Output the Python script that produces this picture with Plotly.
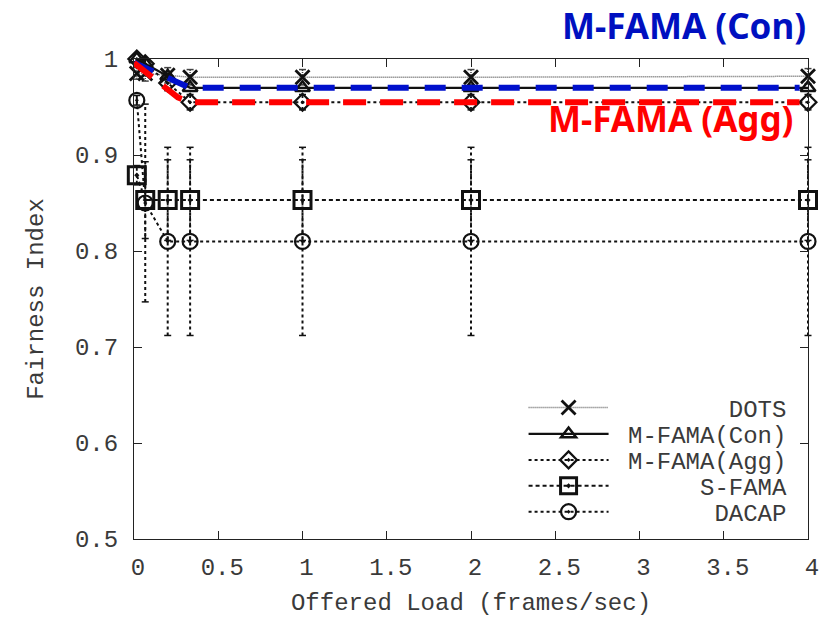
import plotly.graph_objects as go

# ---- data ----
loads = [0.0167, 0.0667, 0.2, 0.333, 1, 2, 4]

dots = [0.985, 0.985, 0.983, 0.981, 0.981, 0.981, 0.982]
dots_err = [0.006, 0.008, 0.008, 0.008, 0.008, 0.008, 0.008]

mfama_con = [1.0, 0.995, 0.982, 0.970, 0.970, 0.970, 0.970]
mfama_con_err = [0.002, 0.003, 0.003, 0.003, 0.003, 0.003, 0.003]

mfama_agg = [1.0, 0.995, 0.975, 0.955, 0.955, 0.955, 0.955]
mfama_agg_err = [0.003, 0.005, 0.008, 0.008, 0.008, 0.008, 0.008]

sfama = [0.879, 0.853, 0.853, 0.853, 0.853, 0.853, 0.853]
sfama_err = [0.01, 0.04, 0.042, 0.042, 0.042, 0.042, 0.042]

dacap = [0.957, 0.850, 0.810, 0.810, 0.810, 0.810, 0.810]
dacap_err = [0.005, 0.103, 0.098, 0.098, 0.098, 0.098, 0.098]

# highlight overlays (thick coloured dashed lines)
hl_x = [0.0, 0.26, 0.333, 3.95]
hl_con = [0.996, 0.977, 0.970, 0.970]
hl_agg = [0.996, 0.960, 0.955, 0.955]

series_names = ["DOTS", "M-FAMA(Con)", "M-FAMA(Agg)", "S-FAMA", "DACAP"]
x_ticks = [0, 0.5, 1, 1.5, 2, 2.5, 3, 3.5, 4]
y_ticks = [0.5, 0.6, 0.7, 0.8, 0.9, 1.0]
y_tick_text = ["0.5", "0.6", "0.7", "0.8", "0.9", "1"]

MONO = "Liberation Mono, Courier New, monospace"
TXT = "#3a3a3a"
BLK = "#111111"

fig = go.Figure()

def err_trace(xs, ys, es, dash, color=BLK, width=1.8):
    ex, ey = [], []
    for x, y, e in zip(xs, ys, es):
        ex += [x, x, None]
        ey += [y - e, y + e, None]
    fig.add_trace(go.Scatter(x=ex, y=ey, mode="lines",
                             line=dict(color=color, width=width, dash=dash),
                             showlegend=False, hoverinfo="skip", cliponaxis=False))
    cx, cy = [], []
    for x, y, e in zip(xs, ys, es):
        cx += [x, x]
        cy += [y - e, y + e]
    fig.add_trace(go.Scatter(x=cx, y=cy, mode="markers",
                             marker=dict(symbol="line-ew-open", size=5, color=color,
                                         line=dict(color=color, width=1.5)),
                             showlegend=False, hoverinfo="skip", cliponaxis=False))

# error bars
err_trace(loads, dacap, dacap_err, "dot", width=2)
err_trace(loads, sfama, sfama_err, "4px,3px")
err_trace(loads, dots, dots_err, "1px,1px", "#444444", width=1.5)
err_trace(loads, mfama_agg, mfama_agg_err, "dot")

pad = max(len(n) for n in series_names) + 1
def lab(n):
    return "\u00a0" * (pad - len(n)) + n

specs = [
    (dots, dict(color="#666666", width=1.5, dash="1px,1px"),
     dict(symbol="x-thin-open", size=14, color=BLK, line=dict(color=BLK, width=2.8))),
    (mfama_con, dict(color=BLK, width=2.2),
     dict(symbol="triangle-up-open", size=13, color=BLK, line=dict(color=BLK, width=2.5))),
    (mfama_agg, dict(color=BLK, width=2, dash="dot"),
     dict(symbol="diamond-open-dot", size=13, color=BLK, line=dict(color=BLK, width=2.2))),
    (sfama, dict(color=BLK, width=2, dash="4px,3px"),
     dict(symbol="square-open-dot", size=17, color=BLK, line=dict(color=BLK, width=3))),
    (dacap, dict(color=BLK, width=2, dash="dot"),
     dict(symbol="circle-open-dot", size=15, color=BLK, line=dict(color=BLK, width=2.2))),
]
legend_ids = ["legend", "legend2", "legend3", "legend4", "legend5"]
for (ys, ln, mk), name, lid in zip(specs, series_names, legend_ids):
    fig.add_trace(go.Scatter(x=loads, y=ys, name=lab(name), mode="lines+markers",
                             line=ln, marker=mk, cliponaxis=False, legend=lid))

# coloured highlight dashed lines
fig.add_trace(go.Scatter(x=hl_x, y=hl_con, mode="lines", showlegend=False,
                         line=dict(color="#0010CC", width=6, dash="21px,16px"),
                         hoverinfo="skip", cliponaxis=False))
fig.add_trace(go.Scatter(x=hl_x, y=hl_agg, mode="lines", showlegend=False,
                         line=dict(color="#FF0000", width=6, dash="23px,14px"),
                         hoverinfo="skip", cliponaxis=False))

BOLDF = "Noto Sans, DejaVu Sans, sans-serif"
fig.add_annotation(text="<b>M-FAMA (Con)</b>", xref="paper", yref="paper",
                   x=1.0, y=1.0, xanchor="right", yanchor="bottom", yshift=8,
                   showarrow=False,
                   font=dict(family=BOLDF, size=35, color="#0010C0"))
fig.add_annotation(text="<b>M-FAMA (Agg)</b>", xref="paper", yref="paper",
                   x=0.981, xanchor="right", y=0.877, yanchor="middle", showarrow=False,
                   font=dict(family=BOLDF, size=35, color="#FF0000"))

axis_common = dict(showline=True, linecolor="#222222", linewidth=1.2, mirror="ticks",
                   ticks="inside", ticklen=8, tickcolor="#222222", tickwidth=1,
                   showgrid=False, zeroline=False,
                   tickfont=dict(family=MONO, size=24, color=TXT))

fig.update_xaxes(range=[0, 4], tickvals=x_ticks, ticktext=[str(v) for v in x_ticks],
                 title=dict(text="Offered Load (frames/sec)",
                            font=dict(family=MONO, size=24, color=TXT), standoff=18),
                 ticklabelstandoff=6, ticklabelshift=4, **axis_common)
fig.update_yaxes(range=[0.5, 1.0], tickvals=y_ticks, ticktext=y_tick_text,
                 title=dict(text="Fairness Index",
                            font=dict(family=MONO, size=24, color=TXT), standoff=24),
                 ticklabelstandoff=10, **axis_common)

legend_rows = [0.273, 0.218, 0.164, 0.110, 0.056]
leg_common = dict(x=0.578, xanchor="left", yanchor="middle",
                  bgcolor="rgba(0,0,0,0)", borderwidth=0,
                  font=dict(family=MONO, size=24, color=TXT), itemwidth=80)
legend_layout = {lid: dict(y=yv, **leg_common) for lid, yv in zip(legend_ids, legend_rows)}

fig.update_layout(
    width=833, height=617,
    margin=dict(l=134, r=25, t=59, b=78, autoexpand=False),
    plot_bgcolor="white", paper_bgcolor="white",
    showlegend=True,
    **legend_layout,
)

fig.write_html("out.html")
